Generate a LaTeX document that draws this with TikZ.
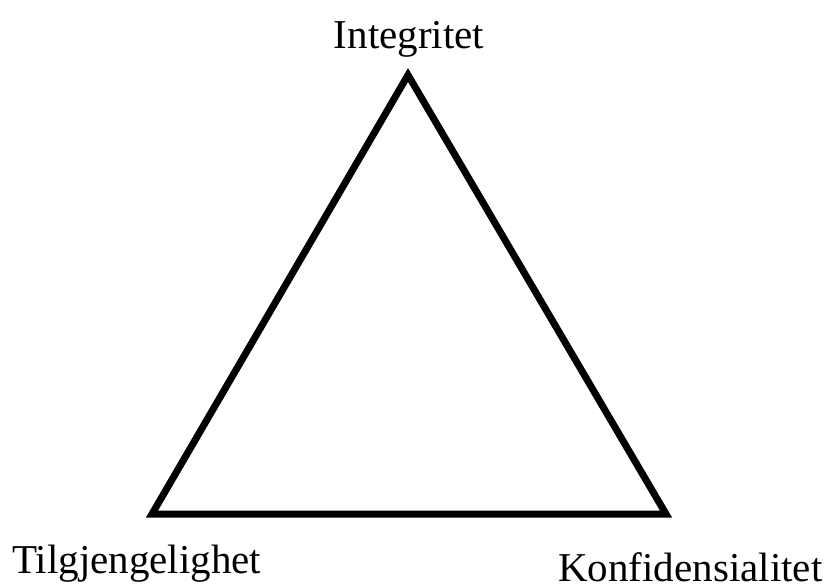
\documentclass[tikz,border=0pt]{standalone}
\usepackage{fontspec}
\setmainfont{Liberation Serif}
\begin{document}
\begin{tikzpicture}[x=1pt,y=-1pt,
  lbl/.style={inner sep=0pt, font=\fontsize{41}{48}\selectfont},
  edge/.style={line width=7pt, line join=miter}]
\useasboundingbox (0,0) rectangle (836,584);
\coordinate (I) at (408,75);
\coordinate (T) at (152,514);
\coordinate (K) at (666,514);
\draw[edge] (I) -- (T) -- (K) -- cycle;
\node[lbl, anchor=base] (li) at (409,48) {Integritet};
\node[lbl, anchor=base west] (lt) at (12,573) {Tilgjengelighet};
\node[lbl, anchor=base west] (lk) at (558,581) {Konfidensialitet};
\end{tikzpicture}
\end{document}
